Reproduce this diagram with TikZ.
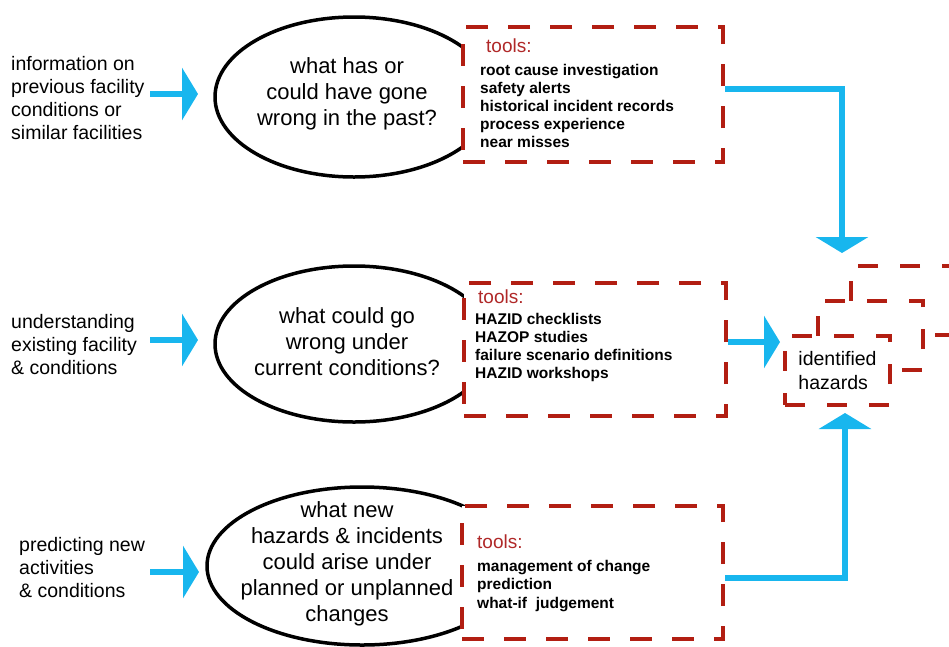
\documentclass[tikz,border=0pt]{standalone}
\usepackage{fontspec}
\setmainfont{Liberation Sans}
\usetikzlibrary{shapes.geometric,arrows.meta}
\definecolor{flowcyan}{RGB}{24,182,238}
\definecolor{dashred}{RGB}{178,30,18}
\definecolor{toolred}{RGB}{176,40,40}
\begin{document}
\begin{tikzpicture}[x=1pt,y=-1pt,
  oval/.style={ellipse, draw=black, line width=3.5pt, inner sep=0pt},
  qtext/.style={align=center, font=\fontsize{22}{26}\selectfont, inner sep=0pt},
  sidetext/.style={align=left, anchor=west, font=\fontsize{19.5}{23}\selectfont, inner sep=0pt},
  toolbox/.style={draw=dashred, fill=white, line width=4.5pt, dash pattern=on 22pt off 20pt, inner sep=0pt},
  toolhead/.style={anchor=west, text=toolred, font=\fontsize{19}{22}\selectfont, inner sep=0pt},
  toollist/.style={anchor=west, align=left, font=\bfseries\fontsize{15.5}{18.2}\selectfont, inner sep=0pt},
  hazbox/.style={draw=dashred, fill=white, line width=4pt, dash pattern=on 20pt off 22pt, minimum width=105pt, minimum height=69pt, inner sep=0pt},
  conn/.style={draw=flowcyan, line width=6.5pt, -{Triangle[length=16pt,width=52pt]}}
]
\useasboundingbox (0,0) rectangle (949,646);

% ellipses
\node[oval, minimum width=278pt, minimum height=160pt] (e1) at (354,97) {};
\node[oval, minimum width=278pt, minimum height=156pt] (e2) at (354,344) {};
\node[oval, minimum width=310pt, minimum height=158pt] (e3) at (362,566) {};

% tool boxes
\node[toolbox, minimum width=260pt, minimum height=135pt] (b1) at (593,94.5) {};
\node[toolbox, minimum width=262pt, minimum height=133pt] (b2) at (595,349.5) {};
\node[toolbox, minimum width=261pt, minimum height=133pt] (b3) at (592.5,572.5) {};

% ellipse texts
\node[qtext] (q1) at (347,94) {what has or\\could have gone\\wrong in the past?};
\node[qtext] (q2) at (347,342) {what could go\\wrong under\\current conditions?};
\node[qtext] (q3) at (347,564) {what new\\hazards \& incidents\\could arise under\\planned or unplanned\\changes};

% left labels
\node[sidetext] (l1) at (11,98) {information on\\previous facility\\conditions or\\similar facilities};
\node[sidetext] (l2) at (11,345) {understanding\\existing facility\\\& conditions};
\node[sidetext] (l3) at (19,568) {predicting new\\activities\\\& conditions};

% tool texts
\node[toolhead] (h1) at (486,46) {tools:};
\node[toollist] (k1) at (480,106) {root cause investigation\\safety alerts\\historical incident records\\process experience\\near misses};
\node[toolhead] (h2) at (478,297) {tools:};
\node[toollist] (k2) at (475,347.5) {HAZID checklists\\HAZOP studies\\failure scenario definitions\\HAZID workshops};
\node[toolhead] (h3) at (477,542) {tools:};
\node[toollist] (k3) at (477,586) {management of change\\prediction\\what-if\ \ judgement};

% identified hazards stack
\node[hazbox] (z3) at (903.5,300.5) {};
\node[hazbox] (z2) at (870.5,335.5) {};
\node[hazbox, align=left, font=\fontsize{19.5}{24}\selectfont] (z1) at (837.5,370.5) {identified\\hazards};

% left arrows
\coordinate (s1) at (150,94);  \coordinate (p1) at (198,94);
\coordinate (s2) at (150,340); \coordinate (p2) at (198,340);
\coordinate (s3) at (150,572); \coordinate (p3) at (199,572);
\draw[conn] (s1) -- (p1);
\draw[conn] (s2) -- (p2);
\draw[conn] (s3) -- (p3);

% right connectors
\coordinate (topin) at (842,253);
\coordinate (botin) at (845,413);
\draw[conn] ([yshift=5.5pt]b1.east) -| (topin);
\draw[conn, shorten >=3pt] ([yshift=7.5pt]b2.east) -- ([yshift=7.5pt]b2.east -| z1.west);
\draw[conn] ([yshift=-5.5pt]b3.east) -| (botin);
\end{tikzpicture}
\end{document}
